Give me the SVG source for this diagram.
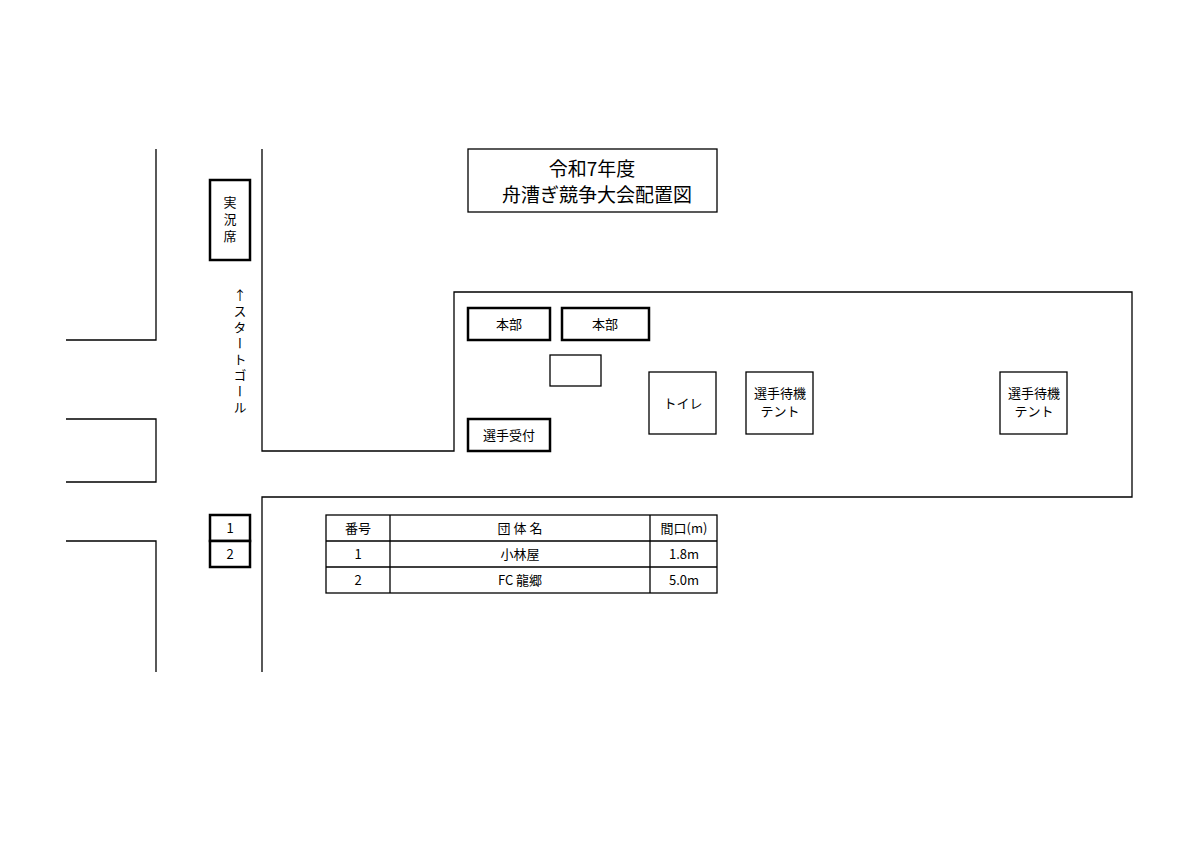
<svg xmlns="http://www.w3.org/2000/svg" width="1200" height="849" viewBox="0 0 1200 849">
<style>
.l{fill:none;stroke:#000;stroke-width:1.3}
.b{fill:#fff;stroke:#000;stroke-width:2.5}
.t{font-family:"Noto Sans CJK JP","Liberation Sans",sans-serif;font-size:13px;text-anchor:middle;fill:#000}
.tt{font-family:"Noto Sans CJK JP","Liberation Sans",sans-serif;font-size:19px;text-anchor:middle;fill:#000}
.v{font-family:"Noto Sans CJK JP","Liberation Sans",sans-serif;font-size:13px;fill:#000;writing-mode:vertical-rl;text-orientation:upright;letter-spacing:3px}
</style>
<rect width="1200" height="849" fill="#fff"/>
<g id="lines" class="l">
<polyline points="66,340 156,340 156,149"/>
<polyline points="66,419 156,419 156,482 66,482"/>
<polyline points="66,541 156,541 156,672"/>
<polyline points="262,149 262,451 454,451 454,292 1132,292 1132,497 262,497 262,672"/>
</g>
<g id="title"><rect x="468" y="149" width="249" height="63" class="l"/>
<text class="tt" x="592" y="176">令和7年度</text><text class="tt" x="597" y="202">舟漕ぎ競争大会配置図</text></g>
<g id="jikkyo"><rect x="210" y="180" width="40" height="80" class="b"/>
<text class="t" x="230" y="207">実</text><text class="t" x="230" y="224">況</text><text class="t" x="230" y="241">席</text></g>
<g id="course"><text class="v" x="240" y="289">↑スタートゴール</text></g>
<g id="honbu1"><rect x="468" y="308" width="82" height="32" class="b"/><text class="t" x="509" y="329">本部</text></g>
<g id="honbu2"><rect x="562" y="308" width="87" height="32" class="b"/><text class="t" x="605" y="329">本部</text></g>
<g id="small"><rect x="550" y="355" width="51" height="31" class="l"/></g>
<g id="uketsuke"><rect x="468" y="419" width="82" height="32" class="b"/><text class="t" x="509" y="440">選手受付</text></g>
<g id="toilet"><rect x="649" y="372" width="67" height="62" class="l"/><text class="t" x="683" y="408">トイレ</text></g>
<g id="tent1"><rect x="746" y="372" width="67" height="62" class="l"/><text class="t" x="780" y="398">選手待機</text><text class="t" x="780" y="416">テント</text></g>
<g id="tent2"><rect x="1000" y="372" width="67" height="62" class="l"/><text class="t" x="1034" y="398">選手待機</text><text class="t" x="1034" y="416">テント</text></g>
<g id="n1"><rect x="210" y="515" width="40" height="26" class="b"/><text class="t" x="230" y="533">1</text></g>
<g id="n2"><rect x="210" y="541" width="40" height="26" class="b"/><text class="t" x="230" y="559">2</text></g>
<g id="table">
<rect x="326" y="515" width="391" height="78" class="l"/>
<path class="l" d="M326,541H717M326,567H717M390,515V593M650,515V593"/>
<text class="t" x="358" y="533">番号</text><text class="t" x="520" y="533">団 体 名</text><text class="t" x="684" y="533">間口(m)</text>
<text class="t" x="358" y="559">1</text><text class="t" x="520" y="559">小林屋</text><text class="t" x="684" y="559">1.8m</text>
<text class="t" x="358" y="585">2</text><text class="t" x="520" y="585">FC 龍郷</text><text class="t" x="684" y="585">5.0m</text>
</g>
</svg>
